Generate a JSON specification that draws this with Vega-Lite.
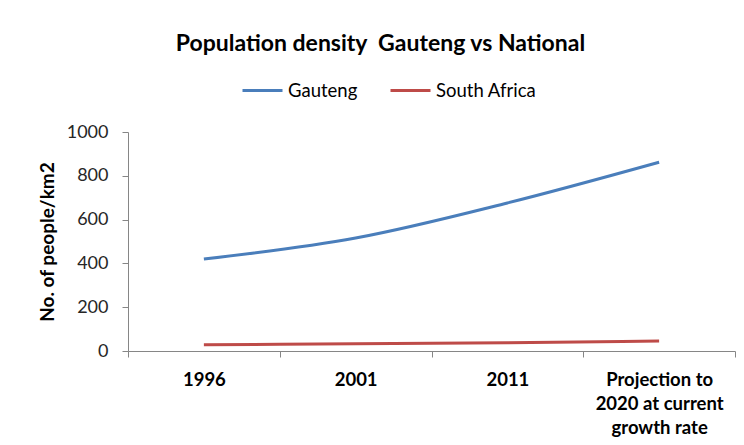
{
  "$schema": "https://vega.github.io/schema/vega-lite/v6.json",
  "width": 607,
  "height": 219,
  "autosize": "none",
  "padding": {"left": 128, "top": 132, "right": 9, "bottom": 94},
  "background": "white",
  "title": {
    "text": "Population density\u00a0 Gauteng vs National",
    "font": "Lato",
    "fontSize": 23,
    "fontWeight": "bold",
    "color": "#000000",
    "anchor": "middle",
    "dx": -51,
    "offset": 13
  },
  "data": {
    "values": [
      {"period": "1996", "series": "Gauteng", "density": 420},
      {"period": "2001", "series": "Gauteng", "density": 516},
      {"period": "2011", "series": "Gauteng", "density": 676},
      {"period": "Projection to|2020 at current|growth rate", "series": "Gauteng", "density": 862},
      {"period": "1996", "series": "South Africa", "density": 28},
      {"period": "2001", "series": "South Africa", "density": 33},
      {"period": "2011", "series": "South Africa", "density": 38},
      {"period": "Projection to|2020 at current|growth rate", "series": "South Africa", "density": 46}
    ]
  },
  "mark": {"type": "line", "strokeWidth": 3, "interpolate": "monotone"},
  "encoding": {
    "x": {
      "field": "period",
      "type": "nominal",
      "sort": null,
      "scale": {"paddingInner": 0, "paddingOuter": 0},
      "axis": {
        "title": null,
        "labelAngle": 0,
        "labelExpr": "split(datum.label, '|')",
        "labelFont": "Lato",
        "labelFontSize": 18.5,
        "labelFontWeight": "bold",
        "labelColor": "#000000",
        "labelLineHeight": 24,
        "labelPadding": 13,
        "labelBaseline": "top",
        "tickBand": "extent",
        "tickSize": 6,
        "tickColor": "#868686",
        "domainColor": "#868686",
        "grid": false
      }
    },
    "y": {
      "field": "density",
      "type": "quantitative",
      "scale": {"domain": [0, 1000]},
      "axis": {
        "title": "No. of people/km2",
        "titleFont": "Lato",
        "titleFontSize": 19,
        "titleFontWeight": "bold",
        "titleColor": "#000000",
        "titlePadding": 9,
        "values": [0, 200, 400, 600, 800, 1000],
        "format": "d",
        "labelFont": "Lato",
        "labelFontSize": 18,
        "labelColor": "#262626",
        "labelPadding": 14,
        "tickSize": 6,
        "tickColor": "#868686",
        "domainColor": "#868686",
        "grid": false
      }
    },
    "color": {
      "field": "series",
      "type": "nominal",
      "scale": {"domain": ["Gauteng", "South Africa"], "range": ["#4a7ebb", "#be4b48"]},
      "legend": {
        "title": null,
        "orient": "none",
        "direction": "horizontal",
        "legendX": 113,
        "legendY": -63,
        "symbolType": "stroke",
        "symbolSize": 1600,
        "symbolStrokeWidth": 3,
        "labelFont": "Lato",
        "labelFontSize": 18.5,
        "labelColor": "#000000",
        "labelOffset": 4,
        "columnPadding": 26
      }
    }
  },
  "config": {"view": {"stroke": null}}
}
